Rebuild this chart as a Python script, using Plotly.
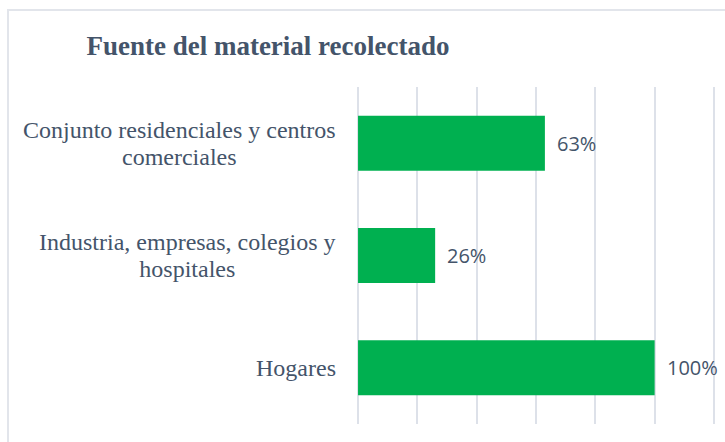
import plotly.graph_objects as go

# display order, top to bottom
categories = [
    "Conjunto residenciales y centros<br>comerciales",
    "Industria, empresas, colegios y<br>hospitales",
    "Hogares",
]
values = [63, 26, 100]
value_labels = ["63%", "26%", "100%"]
grid_ticks = [0, 20, 40, 60, 80, 100, 120]

TEXT_COLOR = "#44546A"
BAR_COLOR = "#00B050"
GRID_COLOR = "#DDE1E9"

W, H = 725, 442
L, R, T, B = 357, 10, 87, 18
plot_w = W - L - R
plot_h = H - T - B


def px_to_paper_x(px):
    return (px - L) / plot_w


def px_to_paper_y(py):
    return (H - B - py) / plot_h


fig = go.Figure()
fig.add_trace(
    go.Bar(
        x=values,
        y=categories,
        orientation="h",
        marker=dict(color=BAR_COLOR, line=dict(width=0)),
        hoverinfo="skip",
    )
)

# category labels, centered lines like the original (tighter line spacing:
# the line step follows the outer font size, glyphs use the inner size)
for cat in categories:
    lines = cat.split("<br>")
    text = "<br>".join(
        f"<span style='font-size:24px'>{ln}</span>" for ln in lines
    )
    fig.add_annotation(
        x=px_to_paper_x(338),
        xref="paper",
        y=cat,
        yref="y",
        text=text,
        showarrow=False,
        xanchor="right",
        yanchor="middle",
        align="center",
        font=dict(family="Liberation Serif", size=20.5, color=TEXT_COLOR),
    )

# value labels
for cat, v, lab in zip(categories, values, value_labels):
    fig.add_annotation(
        x=v,
        y=cat,
        text=lab,
        showarrow=False,
        xanchor="left",
        yanchor="middle",
        xshift=10,
        font=dict(family="Open Sans", size=20, color=TEXT_COLOR),
    )

# chart border
fig.add_shape(
    type="rect",
    xref="paper",
    yref="paper",
    x0=px_to_paper_x(8),
    x1=px_to_paper_x(740),
    y0=px_to_paper_y(460),
    y1=px_to_paper_y(10),
    line=dict(color="#E2E5EB", width=2),
    fillcolor="rgba(0,0,0,0)",
    layer="below",
)

fig.update_layout(
    width=W,
    height=H,
    margin=dict(l=L, r=R, t=T, b=B),
    paper_bgcolor="white",
    plot_bgcolor="white",
    bargap=0.51,
    showlegend=False,
    title=dict(
        text="<b>Fuente del material recolectado</b>",
        font=dict(family="Liberation Serif", size=27, color=TEXT_COLOR),
        xref="container",
        x=268 / W,
        xanchor="center",
        yref="container",
        y=1 - 46 / H,
        yanchor="middle",
    ),
)
fig.update_xaxes(
    range=[-0.35, 120.35],
    tickvals=grid_ticks,
    showticklabels=False,
    showgrid=True,
    gridcolor=GRID_COLOR,
    gridwidth=1.5,
    zeroline=False,
    showline=False,
    fixedrange=True,
)
fig.update_yaxes(
    autorange="reversed",
    showticklabels=False,
    showgrid=False,
    zeroline=False,
    showline=False,
    fixedrange=True,
)

fig.write_html(
    "out.html",
    config={"displayModeBar": False},
    post_script="document.body.style.margin='0';",
)
